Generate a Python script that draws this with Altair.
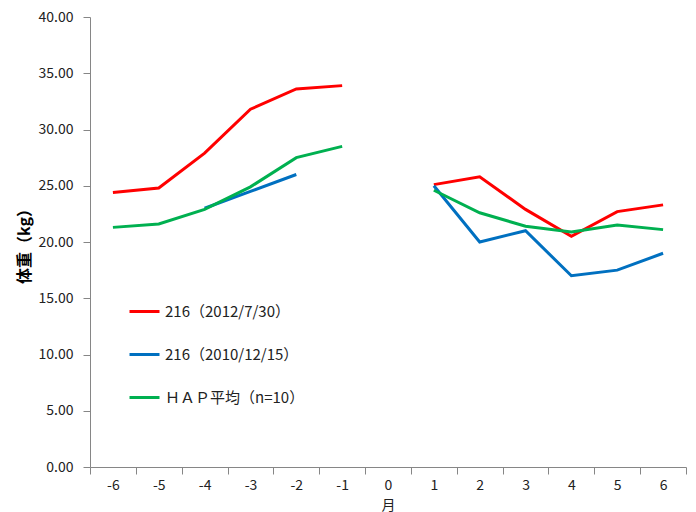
import altair as alt
import pandas as pd

months = [-6, -5, -4, -3, -2, -1, 0, 1, 2, 3, 4, 5, 6]

red_x = [-6, -5, -4, -3, -2, -1, 1, 2, 3, 4, 5, 6]
red_y = [24.4, 24.8, 27.9, 31.8, 33.6, 33.9, 25.1, 25.8, 22.9, 20.5, 22.7, 23.3]

blue_x = [-4, -3, -2, 1, 2, 3, 4, 5, 6]
blue_y = [23.0, 24.5, 26.0, 25.0, 20.0, 21.0, 17.0, 17.5, 19.0]

green_x = [-6, -5, -4, -3, -2, -1, 1, 2, 3, 4, 5, 6]
green_y = [21.3, 21.6, 22.9, 24.9, 27.5, 28.5, 24.6, 22.6, 21.4, 20.9, 21.5, 21.1]

series_names = ["216（2012/7/30）", "216（2010/12/15）", "ＨＡＰ平均（n=10）"]
series_colors = ["#FF0000", "#0070C0", "#00B050"]

rows = []
for name, xs, ys in zip(series_names, [red_x, blue_x, green_x], [red_y, blue_y, green_y]):
    for x, y in zip(xs, ys):
        rows.append({"series": name, "month": x, "weight": y,
                     "seg": "before" if x < 0 else "after"})
df = pd.DataFrame(rows)

font = "Noto Sans CJK JP"

chart = alt.Chart(df).mark_line(strokeWidth=3).encode(
    x=alt.X("month:O", scale=alt.Scale(domain=months, paddingInner=0, paddingOuter=0),
            axis=alt.Axis(title="月", labelAngle=0, tickBand="extent", grid=False,
                          domainColor="#868686", tickColor="#868686", tickSize=7,
                          labelFont=font, labelFontSize=14, labelColor="#222222",
                          labelPadding=4, titleFont=font, titleFontSize=14,
                          titleFontWeight="normal", titleColor="#222222",
                          titleY=38, titleBaseline="middle")),
    y=alt.Y("weight:Q", scale=alt.Scale(domain=[0, 40]),
            axis=alt.Axis(title="体重（kg）", values=[0, 5, 10, 15, 20, 25, 30, 35, 40],
                          format=".2f", grid=False, domainColor="#868686",
                          tickColor="#868686", tickSize=7, labelFont=font,
                          labelFontSize=14, labelColor="#222222", labelPadding=10,
                          titleFont=font, titleFontSize=16, titleFontWeight="bold",
                          titleColor="#000000", titlePadding=6)),
    color=alt.Color("series:N", scale=alt.Scale(domain=series_names, range=series_colors),
                    legend=alt.Legend(title=None, orient="none", legendX=38, legendY=278,
                                      symbolType="stroke", symbolSize=900,
                                      symbolStrokeWidth=3, labelFont=font,
                                      labelFontSize=15, labelColor="#222222",
                                      rowPadding=18, labelOffset=4)),
    detail="seg:N",
).properties(
    width=596, height=450,
    padding={"left": 82, "top": 9, "right": 2, "bottom": 45},
    autosize="none",
).configure_view(stroke=None)

chart.save("out.html", embed_options={"renderer": "svg", "actions": False})
